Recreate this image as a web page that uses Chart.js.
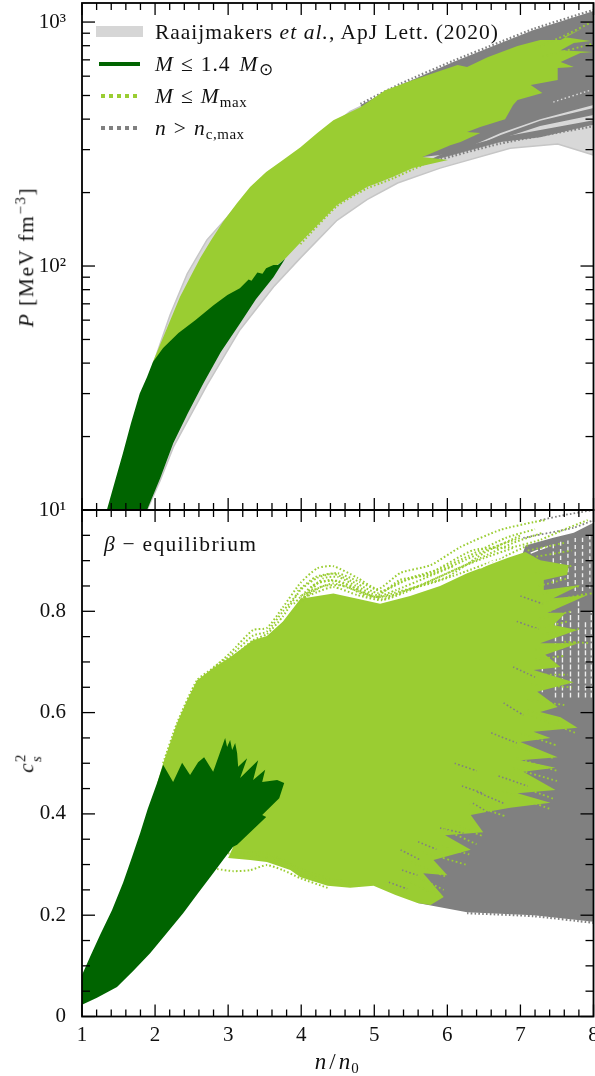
<!DOCTYPE html>
<html><head><meta charset="utf-8">
<script src="https://cdn.jsdelivr.net/npm/chart.js@4"></script>
<style>
html,body{margin:0;padding:0;background:#fff;overflow:hidden}
#wrap{position:relative;width:595px;height:1076px;overflow:hidden;font-family:"Liberation Serif",serif;color:#111}
canvas{position:absolute;left:0}
.t{position:absolute;white-space:nowrap;font-size:21.5px;line-height:1;letter-spacing:.97px}
.t i{letter-spacing:1.1px}
.o{margin:0 7px}
.s{font-size:15px;position:relative;top:4px;letter-spacing:.5px}
.u{font-size:15px;position:relative;top:-8px}
.k{position:absolute}
</style></head><body><div id="wrap">
<canvas id="top" width="595" height="520" style="top:0"></canvas>
<canvas id="bot" width="595" height="576" style="top:500px"></canvas>

<div class="k" style="left:96px;top:26px;width:47px;height:11px;background:#d6d6d6"></div>
<div class="k" style="left:99px;top:62px;width:41px;height:4px;background:#006400"></div>
<div class="k" style="left:101px;top:94px;width:37px;height:4px;background:repeating-linear-gradient(90deg,#9acd32 0 4px,transparent 4px 8px)"></div>
<div class="k" style="left:101px;top:126px;width:37px;height:4px;background:repeating-linear-gradient(90deg,#808080 0 4px,transparent 4px 8px)"></div>
<div class="t" style="left:155px;top:22px">Raaijmakers <i>et al.</i>, ApJ Lett. (2020)</div>
<div class="t" style="left:155px;top:54px"><i>M</i><span class="o">≤</span>1.4<span style="margin-left:9px"><i>M</i></span><span class="s" style="font-size:17px">⊙</span></div>
<div class="t" style="left:155px;top:86px"><i>M</i><span class="o">≤</span><i>M</i><span class="s">max</span></div>
<div class="t" style="left:155px;top:118px"><i>n</i><span class="o">&gt;</span><i>n</i><span class="s">c,max</span></div>
<div class="t" style="left:104px;top:534px;letter-spacing:1.3px"><i>β</i> − equilibrium</div>
<div class="t" style="left:27px;top:257px;transform:translate(-50%,-50%) rotate(-90deg);letter-spacing:1.6px"><i>P</i> [MeV fm<span class="u">−3</span>]</div>
<div class="t" style="left:27px;top:763px;transform:translate(-50%,-50%) rotate(-90deg)"><i>c</i><span style="position:relative;display:inline-block;width:9px;height:10px"><span style="position:absolute;left:0;top:6px;font-size:15px"><i>s</i></span><span style="position:absolute;left:0;top:-10px;font-size:15px">2</span></span></div>
<div class="t" style="left:337px;top:1061px;transform:translate(-50%,-50%);letter-spacing:3px;font-size:23px"><i style="letter-spacing:3px">n</i>/<i>n</i><span class="s">0</span></div>
</div>
<script>
// ---------- axis ticks ----------
const xMajor=[1,2,3,4,5,6,7,8];
const xMinor=[1.2,1.4,1.6,1.8,2.2,2.4,2.6,2.8,3.2,3.4,3.6,3.8,4.2,4.4,4.6,4.8,5.2,5.4,5.6,5.8,6.2,6.4,6.6,6.8,7.2,7.4,7.6,7.8];
const pMajor=[10,100,1000];
const pMinor=[20,30,40,50,60,70,80,90,200,300,400,500,600,700,800,900];
const pLabels=['10¹','10²','10³'];
const csMajor=[0,0.2,0.4,0.6,0.8];
const csMinor=[0.05,0.1,0.15,0.25,0.3,0.35,0.45,0.5,0.55,0.65,0.7,0.75,0.85,0.9,0.95];
const csLabels=['0','0.2','0.4','0.6','0.8'];

// ---------- upper panel: P(n) envelopes ----------
const bandX=[1.97,2.205,2.44,2.71,2.99,3.30,3.99,4.67,5.36,6.04,7.0,8,8,7.51,6.86,5.90,5.32,4.90,4.49,3.99,3.62,3.16,2.71,2.25,2.07,1.89];
const bandP=[39.3,63,93,128,159,205,295,430,540,660,800,1038,285,316,304,252,219,187,154,108,82,54.7,32.5,18.1,13.2,10];

const grayTopX=[4.81,5.36,6.08,6.73,7.18,8,8,7.27,6.73,6.32,5.90,5.66,5.36];
const grayTopP=[457,552,686,820,927,1109,457,400,351,310,285,280,272];
const streakBX=[8,7.27,6.73,6.32,6.73,7.27,8];
const streakBP=[444,394,344,305,332,375,416];
const streakCX=[8,7.27,6.73,6.04,5.66,6.73,7.27,8];
const streakCP=[396,361,337,299,264,322,337,379];

const lightTopX=[1.97,2.34,2.48,2.62,2.77,2.93,3.12,3.30,3.52,3.75,3.99,4.22,4.44,4.81,5.15,5.53,6.14,6.27,6.55,6.96,7.27,7.55,7.86,7.59,7.96,7.73,7.55,7.99,7.82,7.55,7.73,7.51,7.51,7.14,7.30,6.96,6.90,6.79,6.45,6.27,6.45,6.18,6.04,5.66,6.01,5.53,5.26,5.08,4.90,4.49,3.99,3.78];
const lightTopP=[40.4,74.6,90,108,128,152,181,211,243,272,307,351,396,448,526,579,666,654,718,797,844,844,945,868,836,820,767,754,746,686,654,648,579,552,512,479,457,400,371,354,351,322,313,280,272,252,232,221,211,178,125,107];

const darkTopX=[1.34,1.45,1.56,1.67,1.79,1.89,1.97,2.11,2.32,2.55,2.80,2.99,3.16,3.28,3.32,3.40,3.47,3.52,3.62,3.68,3.78,3.62,3.38,3.16,2.90,2.66,2.45,2.25,2.07,1.89];
const darkTopP=[10,13.1,17.1,22.7,30,35.1,40.4,46.1,53.2,60,69,76,81,88,87,94,93,98,101,101,107,90,73,58,44.4,33,25,18.8,13.5,10];

const fringeUpX=[4.81,5.36,6.08,6.73,7.18,8];
const fringeUpP=[462,559,694,830,938,1122];
const fringeLowX=[5.66,6.73,8];
const fringeLowP=[261,318,374];
const fringeGreenX=[3.99,4.49,4.90,5.08,5.26,5.53,5.66];
const fringeGreenP=[123,176,208,218,229,249,259];
const wispTopX=[7.45,7.96];
const wispTopP=[470,526];
const tipAX=[7.2,7.6,7.95];
const tipAP=[780,880,990];
const tipBX=[7.3,7.99];
const tipBP=[720,815];

// ---------- lower panel: c_s^2(n) envelopes ----------
const lightLowX=[2.03,2.11,2.30,2.44,2.575,2.795,3.03,3.34,3.53,3.75,3.99,4.44,4.77,5.08,5.49,5.90,6.27,6.82,7.068,7.27,7.66,7.64,7.32,7.32,7.82,7.45,7.92,7.37,7.62,7.45,7.78,7.27,7.79,7.34,7.55,7.18,7.73,7.23,7.51,7.27,7.55,7.78,7.18,7.41,7.00,7.51,7.00,7.48,7.04,7.48,6.96,7.41,6.86,6.55,6.32,6.49,5.97,6.32,5.81,6.00,5.67,5.95,5.77,5.59,5.29,4.99,4.67,4.36,3.99,3.85,3.53,3.30,3.00,3.07];
const lightLowC=[.461,.500,.579,.625,.664,.688,.710,.743,.751,.780,.825,.835,.825,.815,.830,.850,.875,.905,.917,.901,.891,.872,.862,.842,.852,.826,.832,.797,.797,.773,.763,.737,.737,.714,.690,.684,.660,.641,.611,.601,.591,.570,.562,.550,.542,.512,.506,.491,.483,.447,.441,.422,.412,.404,.398,.364,.358,.329,.309,.279,.283,.236,.220,.224,.240,.258,.254,.258,.275,.289,.305,.309,.313,.335];

const grayLowX=[7.07,7.45,7.73,8,8,7.18,6.27,5.59,5.2,6.5];
const grayLowC=[.93,.945,.955,.975,.187,.2,.206,.224,.3,.7];

const darkLowX=[1,1.12,1.247,1.41,1.562,1.68,1.795,1.90,2.027,2.110,2.247,2.370,2.479,2.589,2.671,2.795,2.959,2.986,3.027,3.055,3.096,3.123,3.137,3.260,3.164,3.411,3.342,3.507,3.466,3.671,3.767,3.699,3.466,3.521,3.123,3.068,2.93,2.795,2.59,2.384,2.15,1.932,1.70,1.479,1.205,1];
const darkLowC=[.082,.121,.161,.210,.264,.313,.362,.410,.461,.497,.463,.501,.477,.502,.512,.483,.550,.532,.546,.526,.540,.520,.493,.510,.471,.506,.467,.487,.463,.467,.461,.431,.398,.394,.339,.335,.309,.283,.244,.204,.163,.125,.090,.058,.037,.023];

const envAX=[2.11,2.30,2.575,2.795,3.03,3.34,3.53,3.75,3.99,4.22,4.44,4.77,5.05,5.36,5.77,6.18,6.73,7.18,7.34];
const envAC=[.500,.579,.664,.688,.718,.763,.767,.808,.856,.885,.889,.866,.844,.876,.891,.927,.961,.976,.980];
const envBX=[3.03,3.34,3.53,3.75,3.99,4.22,4.44,4.77,5.05,5.36,5.77,6.36,6.90,7.27,7.59,7.92];
const envBC=[.704,.743,.755,.79,.842,.866,.874,.854,.836,.858,.876,.921,.927,.941,.961,.980];
const envCX=[3.99,4.22,4.44,4.77,5.05,5.36,5.77,6.18,6.73,7.1];
const envCC=[.83,.845,.855,.84,.828,.84,.855,.875,.905,.93];
const envDX=[4.0,4.22,4.44,4.77,5.1,5.4,5.77,6.1,6.5,6.9];
const envDC=[.825,.838,.848,.832,.822,.836,.86,.882,.905,.925];
const envEX=[3.85,4.1,4.3,4.5,4.75,5.05,5.35,5.75,6.15,6.6,7.0];
const envEC=[.79,.835,.865,.868,.85,.832,.862,.872,.895,.925,.945];
const envFX=[3.99,4.3,4.6,4.9,5.2,5.6,6.0,6.45,6.9,7.3];
const envFC=[.822,.85,.85,.83,.83,.85,.875,.905,.935,.955];
const envGX=[3.95,4.2,4.5,4.8,5.1,5.5,5.9,6.3,6.8,7.2];
const envGC=[.84,.868,.875,.858,.84,.866,.884,.91,.945,.962];
const envHX=[3.75,3.95,4.2,4.5,4.8,5.1,5.5,6.0,6.5,7.0];
const envHC=[.775,.812,.855,.86,.842,.824,.845,.868,.915,.95];
const envIX=[2.8,3.03,3.34,3.53,3.75,3.95];
const envIC=[.69,.712,.752,.76,.80,.835];
const envJX=[3.9,4.15,4.4,4.7,5.0,5.3,5.7,6.1];
const envJC=[.815,.85,.862,.848,.828,.842,.866,.89];
const envLowAX=[2.85,3.07,3.30,3.53,3.75,3.99,4.36];
const envLowAC=[.291,.287,.289,.299,.289,.273,.254];
const envLowBX=[3.0,3.3,3.53,3.8,4.1,4.4,4.7];
const envLowBC=[.322,.325,.322,.305,.285,.272,.265];
const envLowCX=[3.05,3.4,3.7,4.0,4.35,4.75];
const envLowCC=[.318,.316,.31,.284,.268,.262];

const gTopAX=[7.27,7.6,8];
const gTopAC=[.98,.99,1.0];
const gTopBX=[7.04,7.73,8];
const gTopBC=[.945,.965,.98];
const gLowEdgeX=[6.27,7.18,8];
const gLowEdgeC=[.204,.198,.185];

const tipSets=[
 [[7.1,7.6],[.92,.935]],[[7.1,7.7],[.905,.92]],
 [[7.2,7.7],[.875,.89]],[[7.25,7.65],[.85,.865]],[[7.3,7.82],[.835,.85]],[[7.3,7.9],[.815,.835]],
 [[7.4,7.8,8.0],[.80,.83,.836]],[[7.25,7.7],[.785,.80]],[[7.2,7.65],[.765,.78]],[[7.3,7.8],[.755,.765]],
 [[7.6,7.96],[.74,.737]],[[7.2,7.8],[.725,.74]],[[7.2,7.6],[.705,.712]],[[7.1,7.65],[.675,.675]],
 [[7.15,7.7],[.655,.65]],[[7.1,7.6],[.625,.615]],[[7.1,7.6],[.605,.58]],[[7.05,7.75],[.60,.56]],
 [[7.0,7.5],[.56,.535]],[[6.9,7.45],[.535,.51]],[[6.95,7.5],[.51,.485]],[[6.9,7.5],[.49,.465]],
 [[6.8,7.45],[.465,.43]],[[6.75,7.4],[.445,.41]],[[6.3,6.8],[.42,.395]],[[6.0,6.5],[.385,.355]],
 [[5.95,6.4],[.37,.34]],[[5.7,6.3],[.345,.32]],[[5.65,6.25],[.325,.30]],[[5.5,6.0],[.305,.275]],
 [[5.45,5.95],[.285,.25]],[[5.5,5.9],[.265,.235]]
];
const grayStipple=[
 [[6.35,6.55],[.421,.404]],[[5.36,5.63],[.329,.309]],[[5.38,5.59],[.289,.279]],[[6.77,7.04],[.619,.595]],
 [[6.41,6.77],[.443,.421]],[[5.9,6.22],[.372,.362]],[[6.9,7.2],[.69,.67]],[[6.95,7.25],[.78,.765]],
 [[6.1,6.4],[.50,.485]],[[6.6,6.95],[.56,.54]],[[6.7,7.1],[.475,.455]],[[6.2,6.5],[.455,.44]],
 [[5.6,5.85],[.345,.33]],[[5.2,5.45],[.265,.252]],[[7.0,7.3],[.83,.815]]
];
const gapSets=[
 [[6.45,6.9],[.885,.921]],
 [[7.14,7.41],[.915,.93]]
];
const stripeX=[7.3,7.48,7.575,7.685,7.795,7.89,7.97];
const stripeLow=[.64,.63,.63,.63,.63,.63,.63];
const stripeHigh=[.70,.79,.79,.80,.82,.78,.80];
const stripeTopX=[7.45,7.55,7.65,7.75,7.85,7.95];
const stripeTopLow=[.855,.86,.85,.84,.84,.845];
const stripeTopHigh=[.935,.94,.94,.945,.95,.955];

// ---------- helpers ----------
const zip=(xs,ys)=>xs.map((x,i)=>({x,y:ys[i]}));
const poly=(xs,ys,fill,stroke)=>({data:zip(xs,ys),polyFill:fill,polyStroke:stroke,borderWidth:0,pointRadius:0,tension:0,fill:false});
const dots=(xs,ys,color,w,d)=>({data:zip(xs,ys),borderColor:color,borderWidth:w||2,borderDash:d||[1.6,2.2],pointRadius:0,tension:0.2,fill:false});
const inOrder=a=>a.map((d,i)=>Object.assign(d,{order:-i}));
const flatPad=s=>{s.paddingTop=s.paddingBottom=s.paddingLeft=s.paddingRight=0;};

const polyPlugin={id:'poly',beforeDatasetDraw(chart,args){
  const d=chart.data.datasets[args.index]; if(!d.polyFill) return;
  const pts=args.meta.data, c=chart.ctx, a=chart.chartArea;
  c.save(); c.beginPath(); c.rect(a.left,a.top,a.right-a.left,a.bottom-a.top); c.clip();
  c.beginPath(); pts.forEach((p,i)=>i?c.lineTo(p.x,p.y):c.moveTo(p.x,p.y)); c.closePath();
  c.fillStyle=d.polyFill; c.fill();
  if(d.polyStroke){c.strokeStyle=d.polyStroke;c.lineWidth=1.5;c.stroke();}
  c.restore();
}};
const framePlugin={id:'frame',afterDraw(chart,_,o){
  const c=chart.ctx,a=chart.chartArea,X=chart.scales.x,Y=chart.scales.y;
  c.save(); c.strokeStyle='#000'; c.lineWidth=1.3;
  const seg=(x1,y1,x2,y2)=>{c.beginPath();c.moveTo(x1,y1);c.lineTo(x2,y2);c.stroke();};
  const xt=(v,l)=>{const p=X.getPixelForValue(v);seg(p,a.top,p,a.top+l);seg(p,a.bottom,p,a.bottom-l);};
  const yt=(v,l)=>{const p=Y.getPixelForValue(v);seg(a.left,p,a.left+l,p);seg(a.right,p,a.right-l,p);};
  xMajor.forEach(v=>xt(v,12)); xMinor.forEach(v=>xt(v,7));
  o.yMajor.forEach(v=>yt(v,13)); o.yMinor.forEach(v=>yt(v,8));
  c.lineWidth=1.8; c.strokeRect(a.left,a.top,a.right-a.left,a.bottom-a.top);
  c.restore();
}};
Chart.register(polyPlugin,framePlugin);
const tickFont={family:'"Liberation Serif",serif',size:21};
const baseOpts=(y,extraX,yMajor,yMinor)=>({
  responsive:false,animation:false,devicePixelRatio:1,events:[],
  plugins:{legend:{display:false},tooltip:{enabled:false},frame:{yMajor,yMinor}},
  scales:{x:Object.assign({type:'linear',min:1,max:8,grid:{display:false},border:{display:false}},extraX),y}
});

// ---------- upper chart ----------
const G='#808080',L='#9acd32',D='#006400',B='#d8d8d8';
new Chart(document.getElementById('top'),{type:'line',
 data:{datasets:inOrder([
  poly(bandX,bandP,B,'#c6c6c6'),
  poly(grayTopX,grayTopP,G),
  poly(streakBX,streakBP,G),
  poly(streakCX,streakCP,G),
  dots(fringeUpX,fringeUpP,G,2.2,[1.6,2.2]),
  dots(fringeLowX,fringeLowP,G,2.2,[1.6,2.2]),
  dots(wispTopX,wispTopP,'#dcdcdc',1.4,[1.5,2.5]),
  poly(lightTopX,lightTopP,L),
  dots(fringeGreenX,fringeGreenP,L,2,[1.6,2.2]),
  dots(tipAX,tipAP,L,1.8,[1.8,2.6]),
  dots(tipBX,tipBP,L,1.8,[1.8,2.6]),
  poly(darkTopX,darkTopP,D)
 ])},
 options:Object.assign(baseOpts({type:'logarithmic',min:10,max:1197,
   grid:{display:false},border:{display:false},
   afterFit:s=>{s.width=82;flatPad(s);},
   afterBuildTicks:s=>{s.ticks=pMajor.map(value=>({value,major:true}))},
   ticks:{font:tickFont,color:'#111',padding:8,callback:v=>pLabels[pMajor.indexOf(v)]??''}},
   {display:false},pMajor,pMinor),{layout:{padding:{left:0,right:1.5,top:3,bottom:10}}})
});

// ---------- lower chart ----------
new Chart(document.getElementById('bot'),{type:'line',
 data:{datasets:inOrder([
  poly(grayLowX,grayLowC,G),
  ...stripeX.map((x,i)=>dots([x,x],[stripeLow[i],stripeHigh[i]],'#eeeeee',1.4,[5,2])),
  ...stripeTopX.map((x,i)=>dots([x,x],[stripeTopLow[i],stripeTopHigh[i]],'#eeeeee',1.4,[4,3])),
  dots(gTopAX,gTopAC,G,1.8),
  dots(gTopBX,gTopBC,G,1.8),
  dots(gLowEdgeX,gLowEdgeC,G,2.2,[1.6,2.2]),
  poly(lightLowX,lightLowC,L),
  dots(envAX,envAC,L),dots(envBX,envBC,L),dots(envCX,envCC,L),dots(envDX,envDC,L),dots(envEX,envEC,L),dots(envFX,envFC,L),dots(envGX,envGC,L),dots(envHX,envHC,L),dots(envIX,envIC,L),dots(envJX,envJC,L),
  dots(envLowAX,envLowAC,L),dots(envLowBX,envLowBC,L),dots(envLowCX,envLowCC,L),
  ...gapSets.map(t=>dots(t[0],t[1],'#ffffff',1.4,[8,2])),
  ...grayStipple.map(t=>dots(t[0],t[1],G,1.6)),
  ...tipSets.map(t=>dots(t[0],t[1],L,1.8,[1.8,2.6])),
  poly(darkLowX,darkLowC,D)
 ])},
 options:Object.assign(baseOpts({type:'linear',min:0,max:1,
   grid:{display:false},border:{display:false},
   afterFit:s=>{s.width=82;flatPad(s);},
   afterBuildTicks:s=>{s.ticks=csMajor.map(value=>({value}))},
   ticks:{font:tickFont,color:'#111',padding:8,callback:v=>csLabels[csMajor.indexOf(v)]??''}},
   {afterFit:s=>{s.height=59.5;flatPad(s);},
    afterBuildTicks:s=>{s.ticks=xMajor.map(value=>({value}))},
    ticks:{font:tickFont,color:'#111',padding:-2,autoSkip:false,maxRotation:0,callback:v=>String(v)}},
   csMajor,csMinor),{layout:{padding:{left:0,right:1.5,top:10,bottom:0}}})
});
</script></body></html>
